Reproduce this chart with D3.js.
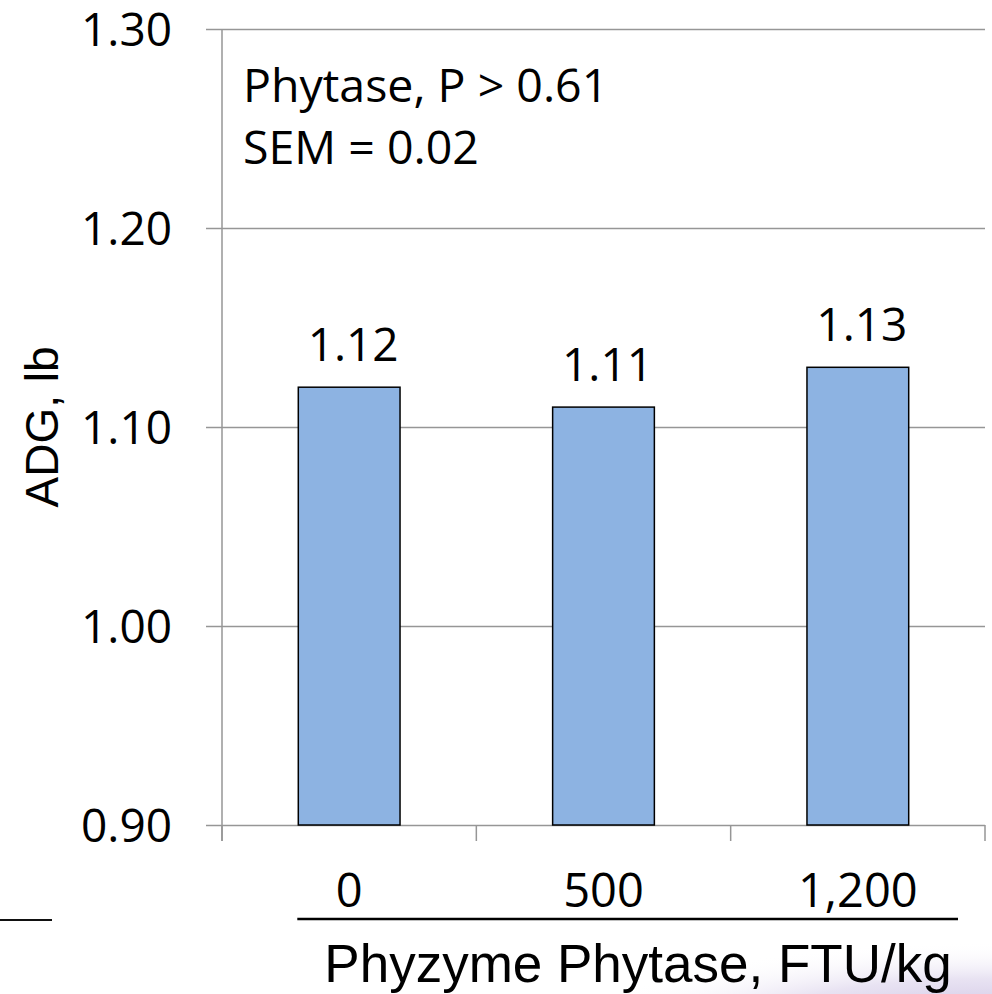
<!DOCTYPE html>
<html>
<head>
<meta charset="utf-8">
<script src="https://cdn.jsdelivr.net/npm/d3@7"></script>
<style>
  html, body { margin: 0; padding: 0; background: #ffffff; }
  svg { display: block; }
</style>
</head>
<body>
<svg id="chart" width="992" height="994"></svg>
<script>
// Average daily gain by phytase level
const categories = ["0", "500", "1,200"];
const adgValues = [1.12, 1.11, 1.13];
const yTicks = [0.90, 1.00, 1.10, 1.20, 1.30];
const notes = ["Phytase, P > 0.61", "SEM = 0.02"];
const yTitle = "ADG, lb";
const xTitle = "Phyzyme Phytase, FTU/kg";

const svg = d3.select("#chart");
const W = 992, H = 994;
const plotLeft = 222, plotRight = 985, plotTop = 29, plotBottom = 825;
const calibriLike = "'Open Sans', 'Noto Sans', sans-serif";
const arialLike = "'Liberation Sans', Arial, sans-serif";
const gridColor = "#969696";

// Soft lavender wash in the lower right corner
const defs = svg.append("defs");
const grad = defs.append("radialGradient").attr("id", "wash")
  .attr("gradientUnits", "userSpaceOnUse")
  .attr("cx", W).attr("cy", H + 40).attr("r", 420)
  .attr("gradientTransform", `translate(${W},${H + 40}) scale(1,0.22) translate(${-W},${-(H + 40)})`);
grad.append("stop").attr("offset", "0").attr("stop-color", "#b9a9d6").attr("stop-opacity", 0.95);
grad.append("stop").attr("offset", "0.6").attr("stop-color", "#d9d0ea").attr("stop-opacity", 0.6);
grad.append("stop").attr("offset", "1").attr("stop-color", "#ffffff").attr("stop-opacity", 0);
svg.append("rect").attr("x", 500).attr("y", 900).attr("width", W - 500).attr("height", H - 900)
  .attr("fill", "url(#wash)");

const y = d3.scaleLinear().domain([0.9, 1.3]).range([plotBottom, plotTop]);
const x = d3.scaleBand().domain(categories).range([plotLeft, plotRight])
  .paddingInner(0.6).paddingOuter(0.3);
// Category boundaries for the bottom tick marks
const xb = d3.scaleLinear().domain([0, categories.length]).range([plotLeft, plotRight]);

// Horizontal gridlines with the left tick stubs
const yAxis = d3.axisLeft(y).tickValues(yTicks).tickFormat(d3.format(".2f"))
  .tickSize(-(plotRight - plotLeft)).tickPadding(50);
const gy = svg.append("g").attr("transform", `translate(${plotLeft},0)`).call(yAxis);
gy.select(".domain").remove();
gy.selectAll(".tick line").attr("x1", -16).attr("stroke", gridColor).attr("stroke-width", 1.5);
gy.selectAll(".tick text").attr("font-family", calibriLike).attr("font-size", 46)
  .attr("fill", "#000").attr("dy", "0.36em");

// Vertical axis line
svg.append("line").attr("x1", plotLeft).attr("x2", plotLeft)
  .attr("y1", y(1.3)).attr("y2", plotBottom + 16)
  .attr("stroke", gridColor).attr("stroke-width", 1.5);

// Bottom tick marks at category boundaries
svg.append("g").selectAll("line").data(d3.range(categories.length + 1)).join("line")
  .attr("x1", d => xb(d)).attr("x2", d => xb(d))
  .attr("y1", plotBottom).attr("y2", plotBottom + 16)
  .attr("stroke", gridColor).attr("stroke-width", 1.5);

// Bars
svg.append("g").selectAll("rect").data(adgValues).join("rect")
  .attr("x", (d, i) => x(categories[i]))
  .attr("y", d => y(d))
  .attr("width", x.bandwidth())
  .attr("height", d => plotBottom - y(d))
  .attr("fill", "#8db3e2")
  .attr("stroke", "#000").attr("stroke-width", 1.5);

// Value labels
svg.append("g").selectAll("text").data(adgValues).join("text")
  .attr("x", (d, i) => x(categories[i]) + x.bandwidth() / 2 + 4)
  .attr("y", d => y(d) - 26)
  .attr("text-anchor", "middle")
  .attr("font-family", calibriLike).attr("font-size", 46).attr("fill", "#000")
  .text(d => d.toFixed(2));

// Category labels
svg.append("g").selectAll("text").data(categories).join("text")
  .attr("x", d => x(d) + x.bandwidth() / 2)
  .attr("y", 907)
  .attr("text-anchor", "middle")
  .attr("font-family", calibriLike).attr("font-size", 47).attr("fill", "#000")
  .text(d => d);

// Rule beneath the category labels
svg.append("line").attr("x1", x(categories[0]) - 1).attr("x2", 958)
  .attr("y1", 919).attr("y2", 919).attr("stroke", "#000").attr("stroke-width", 2.5);
svg.append("line").attr("x1", 0).attr("x2", 52)
  .attr("y1", 920).attr("y2", 920).attr("stroke", "#111").attr("stroke-width", 2);

// Axis titles
svg.append("text").attr("x", 638).attr("y", 982).attr("text-anchor", "middle")
  .attr("font-family", arialLike).attr("font-size", 53).attr("fill", "#000")
  .text(xTitle);
svg.append("text")
  .attr("transform", `translate(58,${y(1.1)}) rotate(-90)`)
  .attr("text-anchor", "middle")
  .attr("font-family", arialLike).attr("font-size", 46).attr("fill", "#000")
  .text(yTitle);

// Statistics note
svg.append("g").selectAll("text").data(notes).join("text")
  .attr("x", 243).attr("y", (d, i) => 102 + i * 62)
  .attr("font-family", calibriLike).attr("font-size", 46.5).attr("fill", "#000")
  .text(d => d);
</script>
</body>
</html>
